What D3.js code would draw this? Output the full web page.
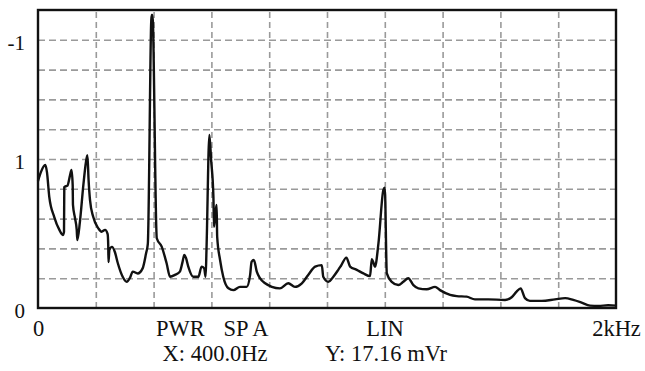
<!DOCTYPE html>
<html>
<head>
<meta charset="utf-8">
<script src="https://cdn.jsdelivr.net/npm/d3@7"></script>
<style>
  html, body { margin: 0; padding: 0; background: #fff; }
  svg { display: block; }
  text { font-family: "Liberation Serif", "Times New Roman", serif; fill: #111; }
</style>
</head>
<body>
<svg id="chart" width="645" height="371"></svg>
<script>
// spectrum trace: frequency in Hz, level in grid divisions (0..10)
const freqHz = [
  0, 10, 25, 31, 39, 56, 74, 86, 90, 91, 102, 111, 116, 120, 121, 128, 134, 136, 145, 157,
  166, 171, 175, 180, 191, 209, 220, 232, 241, 243, 244, 247, 256, 266, 276, 293, 307, 318, 328, 345,
  362, 374, 380, 393, 396, 411, 428, 445, 457, 474, 491, 500, 506, 512, 520, 537, 555, 566, 575, 580,
  583, 593, 599, 607, 609, 613, 618, 620, 630, 641, 659, 676, 699, 722, 734, 739, 747, 757, 768, 786,
  809, 837, 866, 889, 913, 935, 959, 982, 987, 1005, 1022, 1039, 1048, 1067, 1080, 1103, 1126, 1149, 1155, 1160,
  1166, 1178, 1195, 1200, 1207, 1224, 1247, 1264, 1281, 1299, 1316, 1345, 1374, 1391, 1426, 1449, 1483, 1512, 1558, 1616,
  1639, 1656, 1670, 1685, 1702, 1743, 1789, 1824, 1852, 1881, 1910, 1939, 1973, 2000
];
const level = [
  4.26, 4.56, 4.80, 4.56, 3.73, 3.06, 2.62, 2.45, 2.56, 4.06, 4.11, 4.46, 4.63, 4.13, 3.46, 3.02, 2.62, 2.28, 2.89, 4.13,
  4.90, 5.13, 4.30, 3.62, 3.06, 2.67, 2.56, 2.62, 2.48, 2.11, 1.54, 1.95, 2.05, 1.88, 1.51, 1.05, 0.88, 1.01, 1.22, 1.16,
  1.33, 1.84, 2.15, 9.83, 9.83, 2.34, 2.06, 1.50, 1.05, 1.11, 1.22, 1.54, 1.78, 1.68, 1.39, 1.05, 1.05, 1.39, 1.33, 1.05,
  1.95, 5.81, 4.97, 3.72, 2.73, 3.12, 3.46, 2.39, 1.61, 1.05, 0.66, 0.60, 0.71, 0.71, 1.11, 1.55, 1.61, 1.22, 1.00, 0.83,
  0.71, 0.66, 0.83, 0.71, 0.83, 1.11, 1.39, 1.44, 1.05, 0.88, 1.05, 1.28, 1.41, 1.69, 1.39, 1.28, 1.16, 1.07, 1.64, 1.54,
  1.38, 2.17, 3.96, 4.04, 1.16, 0.88, 0.77, 0.88, 1.00, 0.77, 0.66, 0.63, 0.71, 0.60, 0.44, 0.40, 0.38, 0.29, 0.29, 0.27,
  0.36, 0.55, 0.66, 0.33, 0.24, 0.24, 0.29, 0.33, 0.27, 0.18, 0.08, 0.07, 0.09, 0.08
];

// axis labels as printed on the screen
const xTickValues = [0, 2000];
const xTickLabels = ['0', '2kHz'];
const yTickValues = [0, 5, 9];
const yTickLabels = ['0', '1', '-1'];
const modeLabels = ['PWR', 'SP A', 'LIN'];
const cursorLabels = ['X: 400.0Hz', 'Y: 17.16 mVr'];

const width = 645, height = 371;
const margin = { left: 38, right: 29, top: 10, bottom: 63 };

const svg = d3.select('#chart');

const x = d3.scaleLinear()
  .domain([0, 2000])
  .range([margin.left, width - margin.right]);

const y = d3.scaleLinear()
  .domain([0, 10])
  .range([height - margin.bottom, margin.top]);

// dashed grid, 10 x 10 divisions
svg.append('g')
  .attr('transform', `translate(0, ${height - margin.bottom})`)
  .call(d3.axisBottom(x).tickValues(d3.range(200, 2000, 200))
    .tickSize(-(height - margin.top - margin.bottom)).tickFormat(''))
  .call(g => g.select('.domain').remove())
  .call(g => g.selectAll('line')
    .attr('stroke', '#9a9a9a').attr('stroke-width', 1.6).attr('stroke-dasharray', '6,4'));

svg.append('g')
  .attr('transform', `translate(${margin.left}, 0)`)
  .call(d3.axisLeft(y).tickValues(d3.range(1, 10))
    .tickSize(-(width - margin.left - margin.right)).tickFormat(''))
  .call(g => g.select('.domain').remove())
  .call(g => g.selectAll('line')
    .attr('stroke', '#9a9a9a').attr('stroke-width', 1.6).attr('stroke-dasharray', '7,4'));

// trace
const points = freqHz.map((f, i) => [f, level[i]]);
const line = d3.line()
  .x(d => x(d[0]))
  .y(d => y(d[1]))
  .curve(d3.curveMonotoneX);

svg.append('path')
  .datum(points)
  .attr('d', line)
  .attr('fill', 'none')
  .attr('stroke', '#111')
  .attr('stroke-width', 2.4)
  .attr('stroke-linejoin', 'round');

// frame
svg.append('rect')
  .attr('x', x(0))
  .attr('y', y(10))
  .attr('width', x(2000) - x(0))
  .attr('height', y(0) - y(10))
  .attr('fill', 'none')
  .attr('stroke', '#111')
  .attr('stroke-width', 2.4);

// y labels
svg.append('g')
  .attr('transform', `translate(${margin.left}, 0)`)
  .call(d3.axisLeft(y).tickValues(yTickValues).tickSize(0).tickPadding(13)
    .tickFormat((d, i) => yTickLabels[i]))
  .call(g => g.select('.domain').remove())
  .call(g => g.selectAll('text')
    .attr('font-size', 21).attr('dy', '0.45em')
    .style('font-family', '"Liberation Serif", serif').attr('fill', '#111'));

// x labels
svg.append('g')
  .attr('transform', `translate(0, ${height - margin.bottom})`)
  .call(d3.axisBottom(x).tickValues(xTickValues).tickSize(0).tickPadding(12)
    .tickFormat((d, i) => xTickLabels[i]))
  .call(g => g.select('.domain').remove())
  .call(g => g.selectAll('text')
    .attr('font-size', 22.5)
    .style('font-family', '"Liberation Serif", serif').attr('fill', '#111'));

// status lines under the screen
const modeX = [180.5, 246, 385];
svg.selectAll('text.mode')
  .data(modeLabels)
  .enter()
  .append('text')
  .attr('class', 'mode')
  .attr('x', (d, i) => modeX[i])
  .attr('y', 336)
  .attr('text-anchor', 'middle')
  .attr('font-size', 22.5)
  .text(d => d);

const cursorX = [215, 386];
svg.selectAll('text.cursor')
  .data(cursorLabels)
  .enter()
  .append('text')
  .attr('class', 'cursor')
  .attr('x', (d, i) => cursorX[i])
  .attr('y', 360.5)
  .attr('text-anchor', 'middle')
  .attr('font-size', 22.5)
  .text(d => d);
</script>
</body>
</html>
